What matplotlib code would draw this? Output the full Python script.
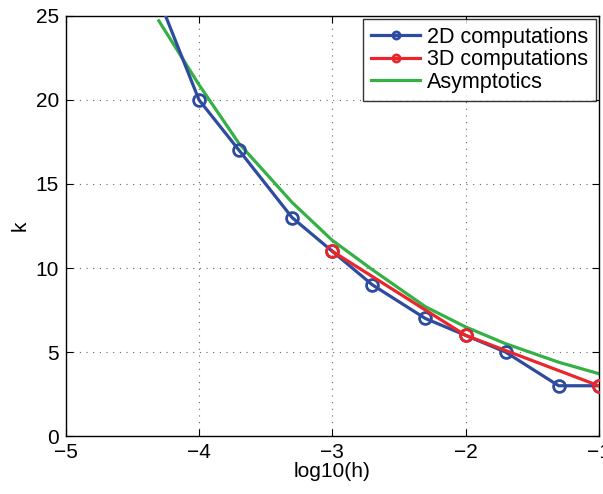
import numpy as np
import matplotlib
matplotlib.use('Agg')
import matplotlib.pyplot as plt

# step sizes h and computed / asymptotic k values
h_2d = [5e-5, 1e-4, 2e-4, 5e-4, 1e-3, 2e-3, 5e-3, 1e-2, 2e-2, 5e-2, 1e-1]
k_2d = [26, 20, 17, 13, 11, 9, 7, 6, 5, 3, 3]

h_3d = [1e-3, 1e-2, 1e-1]
k_3d = [11, 6, 3]

h_as = [5e-5, 1e-4, 2e-4, 5e-4, 1e-3, 2e-3, 5e-3, 1e-2, 2e-2, 5e-2, 1e-1]
k_as = [24.7, 20.9, 17.4, 13.9, 11.65, 9.9, 7.7, 6.5, 5.5, 4.4, 3.72]

plt.rcParams['font.family'] = ['Liberation Sans', 'DejaVu Sans']

fig = plt.figure(figsize=(6.03, 4.94), dpi=100)
ax = fig.add_axes([0.109, 0.117, 0.884, 0.851])

blue = '#2d4b9f'
red = '#e8262b'
green = '#35b044'

ax.plot(np.log10(h_2d), k_2d, color=blue, lw=2.3, marker='o', ms=8.5,
        mfc='none', mew=2, label='2D computations', zorder=3)
ax.plot(np.log10(h_3d), k_3d, color=red, lw=2.3, marker='o', ms=8.5,
        mfc='none', mew=2, label='3D computations', zorder=4)
ax.plot(np.log10(h_as), k_as, color=green, lw=2.3, label='Asymptotics', zorder=2)

ax.set_xlim(-5, -1)
ax.set_ylim(0, 25)
ax.set_xticks([-5, -4, -3, -2, -1])
ax.set_yticks([0, 5, 10, 15, 20, 25])
ax.grid(True, linestyle=(0, (1, 5)), color='#666666', lw=0.8)
ax.tick_params(direction='in', top=True, right=True, labelsize=15, length=5)
ax.tick_params(axis='x', pad=5)
ax.tick_params(axis='y', pad=5)
for s in ax.spines.values():
    s.set_linewidth(1.0)
ax.set_xlabel('log10(h)', fontsize=15, labelpad=0)
ax.set_ylabel('k', fontsize=15, labelpad=4)

leg = ax.legend(loc='upper right', fontsize=15.5, frameon=True, fancybox=False,
                edgecolor='black', borderpad=0.35, labelspacing=0.08,
                handlelength=2.3, handletextpad=0.3, borderaxespad=0.15,
                markerscale=0.6)
leg.get_frame().set_linewidth(1.0)

fig.savefig('out.png', dpi=100)
